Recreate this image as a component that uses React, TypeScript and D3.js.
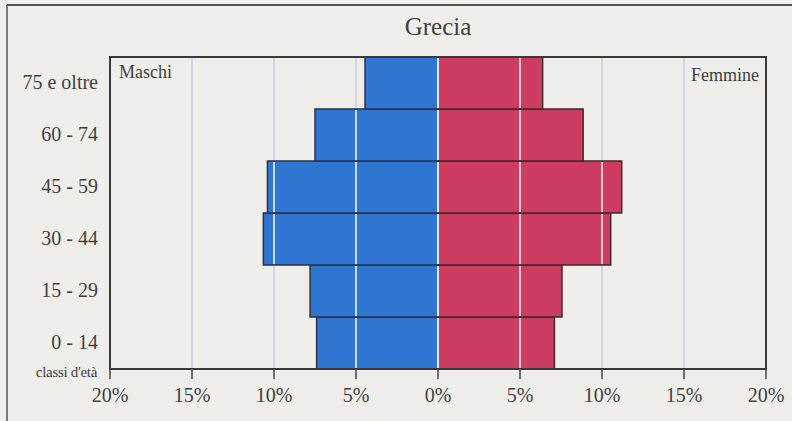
import React from "react";
import * as d3 from "d3";

const ageClasses = ["0 - 14", "15 - 29", "30 - 44", "45 - 59", "60 - 74", "75 e oltre"];
const maleValues = [7.4, 7.8, 10.65, 10.4, 7.5, 4.45];
const femaleValues = [7.1, 7.56, 10.53, 11.2, 8.85, 6.38];
const tickValues = [-20, -15, -10, -5, 0, 5, 10, 15, 20];
const gridValues = [-15, -10, -5, 0, 5, 10, 15];

const W = 792;
const H = 421;
const FONT = "'Liberation Serif', 'DejaVu Serif', serif";

export default function App() {
  const left = 110, right = 766, top = 57, bottom = 369;
  const x = d3.scaleLinear().domain([-20, 20]).range([left, right]);
  const y = d3.scaleBand<string>().domain([...ageClasses].reverse()).range([top, bottom]).padding(0);
  const bw = y.bandwidth();
  const textColor = "#3f3f3f";

  return (
    <svg width={W} height={H} style={{ position: "absolute", left: 0, top: 0, background: "#efeeea" }}>
      <rect x={0} y={0} width={W} height={H} fill="#efeeea" />
      {/* outer frame */}
      <line x1={7} y1={5} x2={W} y2={5} stroke="#222" strokeWidth={1.5} />
      <line x1={7} y1={5} x2={7} y2={H} stroke="#555" strokeWidth={1.5} />

      <text x={x(0)} y={35} textAnchor="middle" fontFamily={FONT} fontSize={25} fill={textColor}>Grecia</text>

      {/* grid under bars */}
      {gridValues.map((v) => (
        <line key={"g" + v} x1={x(v)} x2={x(v)} y1={top} y2={bottom} stroke="#cacbe2" strokeWidth={1.5} />
      ))}

      {/* bars */}
      {ageClasses.map((a, i) => (
        <g key={a}>
          <rect x={x(-maleValues[i])} y={y(a)!} width={x(0) - x(-maleValues[i])} height={bw}
            fill="#2e76d1" stroke="#2d3140" strokeWidth={1.5} />
          <rect x={x(0)} y={y(a)!} width={x(femaleValues[i]) - x(0)} height={bw}
            fill="#cd3d61" stroke="#3a2a2e" strokeWidth={1.5} />
        </g>
      ))}

      {/* grid over bars, only inside the bars */}
      {ageClasses.map((a, i) =>
        gridValues
          .filter((v) => (v <= 0 ? -v < maleValues[i] : v < femaleValues[i]))
          .map((v) => (
            <line key={"o" + a + v} x1={x(v)} x2={x(v)} y1={y(a)! + 1} y2={y(a)! + bw - 1}
              stroke={v < 0 ? "#c4dcfa" : v > 0 ? "#f3c3d2" : "#e6e6f6"} strokeWidth={2} />
          ))
      )}

      {/* plot frame */}
      <rect x={left} y={top} width={right - left} height={bottom - top} fill="none" stroke="#3a3a3a" strokeWidth={2} />

      {/* ticks */}
      {tickValues.map((v) => (
        <g key={"t" + v}>
          <line x1={x(v)} x2={x(v)} y1={bottom} y2={bottom + 10} stroke="#444" strokeWidth={1.5} />
          <text x={x(v)} y={402} textAnchor="middle" fontFamily={FONT} fontSize={20} fill={textColor}>
            {Math.abs(v) + "%"}
          </text>
        </g>
      ))}

      {/* y labels */}
      {ageClasses.map((a) => (
        <text key={"l" + a} x={98} y={y(a)! + bw / 2 + 6} textAnchor="end" fontFamily={FONT} fontSize={20} fill={textColor}>
          {a}
        </text>
      ))}
      <text x={97} y={377} textAnchor="end" fontFamily={FONT} fontSize={15} fill={textColor} letterSpacing={-0.3}>classi d'età</text>

      <text x={119} y={78} fontFamily={FONT} fontSize={18} fill={textColor}>Maschi</text>
      <text x={759} y={81} textAnchor="end" fontFamily={FONT} fontSize={18} fill={textColor}>Femmine</text>
    </svg>
  );
}
